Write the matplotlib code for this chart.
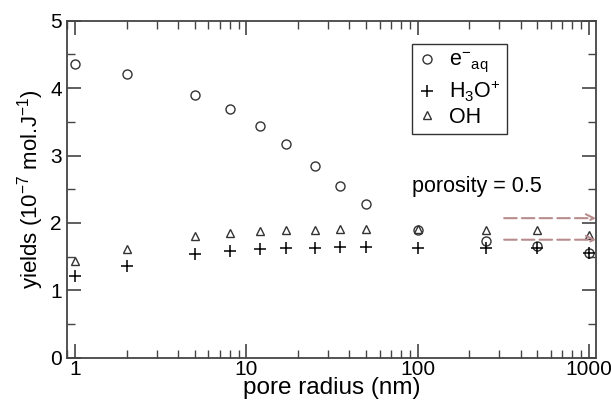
import matplotlib
matplotlib.use("Agg")
import matplotlib.pyplot as plt
from matplotlib.ticker import FixedLocator, LogLocator, NullFormatter, FuncFormatter

plt.rcParams['font.family'] = ['Liberation Sans', 'DejaVu Sans']
plt.rcParams['mathtext.default'] = 'regular'

# pore radius (nm)
radius = [1, 2, 5, 8, 12, 17, 25, 35, 50, 100, 250, 500, 1000]
# yields (1e-7 mol/J)
e_aq = [4.36, 4.21, 3.90, 3.69, 3.44, 3.17, 2.84, 2.55, 2.28, 1.90, 1.73, 1.65, 1.55]
h3o = [1.21, 1.36, 1.54, 1.58, 1.61, 1.62, 1.63, 1.64, 1.64, 1.63, 1.63, 1.63, 1.55]
oh = [1.43, 1.61, 1.80, 1.85, 1.88, 1.89, 1.89, 1.91, 1.91, 1.91, 1.90, 1.90, 1.82]
# dashed arrows (start x, end x, y)
arrow_y = [2.07, 1.75]
arrow_x = [320, 1100]

fig = plt.figure(figsize=(6.11, 4.0), dpi=100)
ax = fig.add_axes([0.110, 0.106, 0.8655, 0.842])

edge = '#333333'
ax.plot(radius, e_aq, 'o', mfc='none', mec=edge, mew=1.0, ms=6.5,
        label=r'e$^{-}$$_{aq}$')
ax.plot(radius, h3o, '+', color='black', mew=1.1, ms=8,
        label=r'H$_3$O$^{+}$')
ax.plot(radius, oh, '^', mfc='none', mec=edge, mew=1.0, ms=5.5,
        label='OH')

for y in arrow_y:
    ax.annotate('', xy=(arrow_x[1], y), xytext=(arrow_x[0], y),
                arrowprops=dict(arrowstyle='->', color='#b88c8c', lw=1.5,
                                linestyle=(0, (6, 2.5)), shrinkA=0, shrinkB=0,
                                mutation_scale=14))

ax.set_xscale('log')
ax.set_xlim(0.9, 1100)
ax.set_ylim(0, 5)

ax.xaxis.set_major_locator(FixedLocator([1, 10, 100, 1000]))
ax.xaxis.set_major_formatter(FuncFormatter(lambda v, p: '%d' % v))
ax.xaxis.set_minor_locator(LogLocator(base=10, subs=range(2, 10)))
ax.xaxis.set_minor_formatter(NullFormatter())
ax.yaxis.set_major_locator(FixedLocator([0, 1, 2, 3, 4, 5]))
ax.yaxis.set_minor_locator(FixedLocator([0.5, 1.5, 2.5, 3.5, 4.5]))

ax.tick_params(which='both', direction='in', top=True, right=True,
               color='#444444', labelsize=15)
ax.tick_params(axis='x', which='both', pad=2)
ax.tick_params(axis='y', which='both', pad=4)
ax.tick_params(which='major', length=10, width=1.2)
ax.tick_params(which='minor', length=6, width=1.0)
for s in ax.spines.values():
    s.set_color('#444444')
    s.set_linewidth(1.3)

ax.set_xlabel('pore radius (nm)', fontsize=17.5, labelpad=-2)
ax.set_ylabel(r'yields (10$^{-7}$ mol.J$^{-1}$)', fontsize=16, labelpad=3)

ax.text(0.652, 0.509, 'porosity = 0.5', transform=ax.transAxes, fontsize=15.5,
        va='center', ha='left')

leg = ax.legend(loc='upper left', bbox_to_anchor=(0.652, 0.930), fontsize=15.5,
                frameon=True, fancybox=False, edgecolor='black',
                handlelength=0.8, handletextpad=0.6, labelspacing=0.15,
                borderpad=0.3, borderaxespad=0)
leg.get_frame().set_linewidth(1.0)

fig.savefig('out.png', dpi=100)
